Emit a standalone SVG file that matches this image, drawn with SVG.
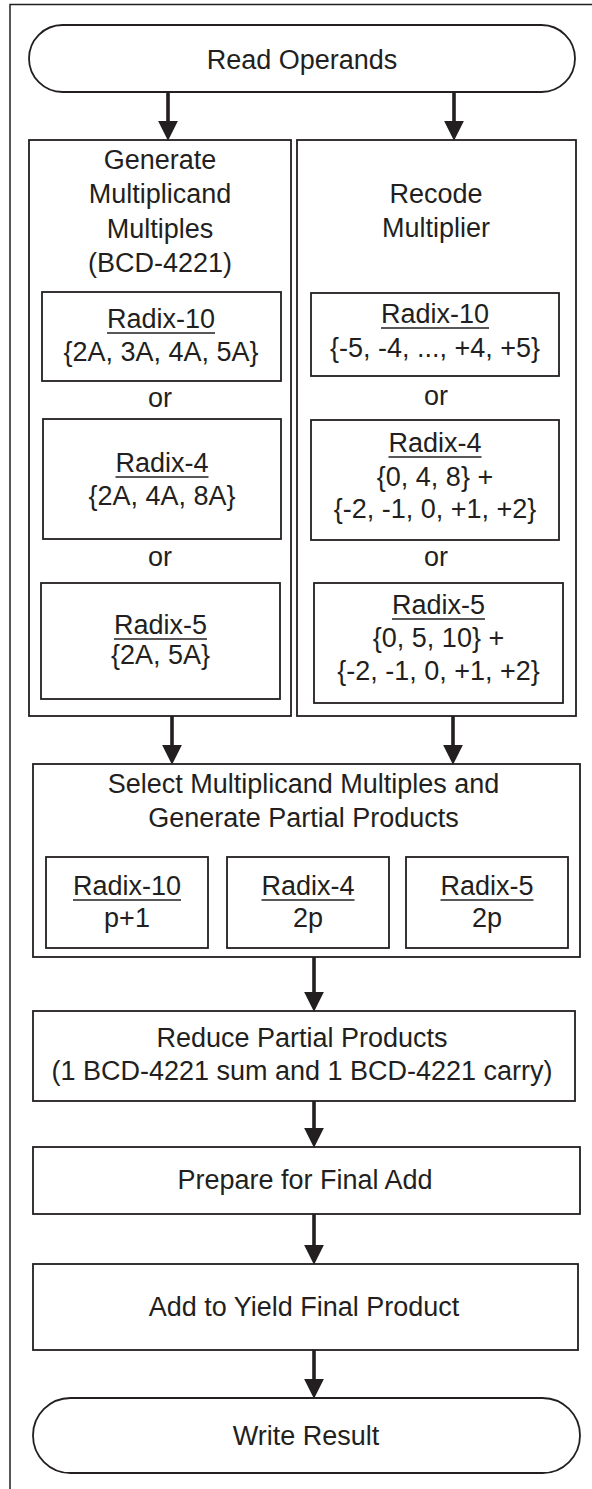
<svg xmlns="http://www.w3.org/2000/svg" width="592" height="1489" viewBox="0 0 592 1489">
<defs>
<style>
.box{fill:#fff;stroke:#231f20;stroke-width:1.8}
.frame{fill:none;stroke:#231f20;stroke-width:1.5}
.t{font-family:"Liberation Sans",Arial,sans-serif;font-size:27px;fill:#231f20;text-anchor:middle}
.ul{stroke:#231f20;stroke-width:1.6}
.arr{stroke:#231f20;stroke-width:3.6;fill:none;marker-end:url(#ah)}
</style>
<marker id="ah" markerUnits="userSpaceOnUse" markerWidth="20" markerHeight="20" viewBox="0 0 19 19" refX="4" refY="9.5" orient="auto">
<path d="M0,0 L19,9.5 L0,19 z" fill="#231f20"/>
</marker>
</defs>
<rect width="592" height="1489" fill="#fff"/>
<path class="frame" d="M10,1489 V4.5 H592"/>

<g id="read">
<rect class="box" x="29" y="25" width="546" height="67" rx="33.5" ry="33.5"/>
<text class="t" x="302" y="68.5">Read Operands</text>
</g>

<g id="generate">
<rect class="box" x="29" y="140" width="262" height="576"/>
<text class="t" x="160" y="169">Generate</text>
<text class="t" x="160" y="203">Multiplicand</text>
<text class="t" x="160" y="237.5">Multiples</text>
<text class="t" x="160" y="272">(BCD-4221)</text>
</g>
<g id="gen-r10">
<rect class="box" x="42" y="292" width="239" height="89"/>
<text class="t" x="161" y="328">Radix-10</text>
<line class="ul" x1="107" y1="333" x2="215" y2="333"/>
<text class="t" x="161" y="361">{2A, 3A, 4A, 5A}</text>
</g>
<text class="t" x="160" y="407">or</text>
<g id="gen-r4">
<rect class="box" x="43" y="419" width="238" height="120"/>
<text class="t" x="162" y="472">Radix-4</text>
<line class="ul" x1="115.5" y1="477" x2="208.5" y2="477"/>
<text class="t" x="162" y="505">{2A, 4A, 8A}</text>
</g>
<text class="t" x="160" y="566">or</text>
<g id="gen-r5">
<rect class="box" x="41" y="583" width="239" height="116"/>
<text class="t" x="160.5" y="634">Radix-5</text>
<line class="ul" x1="114" y1="639" x2="207" y2="639"/>
<text class="t" x="160.5" y="664">{2A, 5A}</text>
</g>

<g id="recode">
<rect class="box" x="297" y="140" width="279" height="576"/>
<text class="t" x="436" y="203">Recode</text>
<text class="t" x="436" y="237">Multiplier</text>
</g>
<g id="rec-r10">
<rect class="box" x="311" y="293" width="248" height="83"/>
<text class="t" x="435" y="323">Radix-10</text>
<line class="ul" x1="381" y1="328" x2="489" y2="328"/>
<text class="t" x="435" y="357">{-5, -4, ..., +4, +5}</text>
</g>
<text class="t" x="436" y="405">or</text>
<g id="rec-r4">
<rect class="box" x="311" y="420" width="248" height="120"/>
<text class="t" x="435" y="452">Radix-4</text>
<line class="ul" x1="388.5" y1="457" x2="481.5" y2="457"/>
<text class="t" x="435" y="486">{0, 4, 8} +</text>
<text class="t" x="435" y="518">{-2, -1, 0, +1, +2}</text>
</g>
<text class="t" x="436" y="566">or</text>
<g id="rec-r5">
<rect class="box" x="314" y="583" width="249" height="120"/>
<text class="t" x="438.5" y="614">Radix-5</text>
<line class="ul" x1="392" y1="619" x2="485" y2="619"/>
<text class="t" x="438.5" y="647">{0, 5, 10} +</text>
<text class="t" x="438.5" y="680">{-2, -1, 0, +1, +2}</text>
</g>

<g id="select">
<rect class="box" x="33" y="764" width="547" height="193"/>
<text class="t" x="303.5" y="793">Select Multiplicand Multiples and</text>
<text class="t" x="303.5" y="827">Generate Partial Products</text>
</g>
<g id="sel-r10">
<rect class="box" x="46" y="857" width="162" height="91"/>
<text class="t" x="127" y="895">Radix-10</text>
<line class="ul" x1="73" y1="900" x2="181" y2="900"/>
<text class="t" x="127" y="927">p+1</text>
</g>
<g id="sel-r4">
<rect class="box" x="227" y="857" width="162" height="91"/>
<text class="t" x="308" y="895">Radix-4</text>
<line class="ul" x1="261.5" y1="900" x2="354.5" y2="900"/>
<text class="t" x="308" y="927">2p</text>
</g>
<g id="sel-r5">
<rect class="box" x="406" y="857" width="162" height="91"/>
<text class="t" x="487" y="895">Radix-5</text>
<line class="ul" x1="440.5" y1="900" x2="533.5" y2="900"/>
<text class="t" x="487" y="927">2p</text>
</g>

<g id="reduce">
<rect class="box" x="33" y="1011" width="542" height="90"/>
<text class="t" x="302" y="1047">Reduce Partial Products</text>
<text class="t" x="302" y="1080">(1 BCD-4221 sum and 1 BCD-4221 carry)</text>
</g>

<g id="prepare">
<rect class="box" x="33" y="1147" width="547" height="67"/>
<text class="t" x="305" y="1189">Prepare for Final Add</text>
</g>

<g id="add">
<rect class="box" x="33" y="1264" width="545" height="86"/>
<text class="t" x="304" y="1316">Add to Yield Final Product</text>
</g>

<g id="write">
<rect class="box" x="33" y="1398" width="547" height="75" rx="37.5" ry="37.5"/>
<text class="t" x="306" y="1445">Write Result</text>
</g>

<g id="connectors">
<line class="arr" x1="168" y1="92" x2="168" y2="125"/>
<line class="arr" x1="454" y1="92" x2="454" y2="125"/>
<line class="arr" x1="172" y1="716" x2="172" y2="749"/>
<line class="arr" x1="453" y1="716" x2="453" y2="749"/>
<line class="arr" x1="314" y1="957" x2="314" y2="996"/>
<line class="arr" x1="314" y1="1101" x2="314" y2="1132"/>
<line class="arr" x1="314" y1="1214" x2="314" y2="1249"/>
<line class="arr" x1="314" y1="1350" x2="314" y2="1383"/>
</g>
</svg>
